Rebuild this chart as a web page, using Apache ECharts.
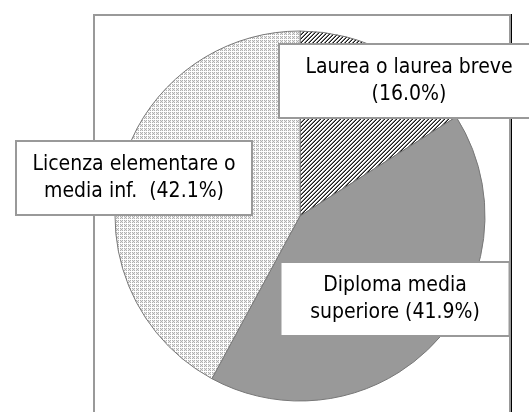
<!DOCTYPE html>
<html>
<head>
<meta charset="utf-8">
<script src="https://cdn.jsdelivr.net/npm/echarts@6/dist/echarts.min.js"></script>
<style>
html,body{margin:0;padding:0;background:#fff;}
#frame{position:absolute;left:93px;top:14px;width:414px;height:420px;border-left:2px solid #999;border-top:2px solid #999;border-right:2px solid #999;box-shadow:1px 0 0 #000;}
#chart{position:absolute;left:0;top:0;width:529px;height:412px;}
</style>
</head>
<body>
<div id="frame"></div>
<div id="chart"></div>
<script>
var categories = ['Laurea o laurea breve', 'Diploma media superiore', 'Licenza elementare o media inf.'];
var labelTexts = ['Laurea o laurea breve\n(16.0%)', 'Diploma media\nsuperiore (41.9%)', 'Licenza elementare o\nmedia inf.  (42.1%)'];
var values = [16.0, 41.9, 42.1];

function makeHatch() {
  var c = document.createElement('canvas');
  c.width = 4; c.height = 4;
  var ctx = c.getContext('2d');
  ctx.fillStyle = '#fff'; ctx.fillRect(0, 0, 4, 4);
  for (var x = 0; x < 4; x++) for (var y = 0; y < 4; y++) {
    var k = (x + y) % 4;
    if (k === 3) { ctx.fillStyle = '#1a1a1a'; ctx.fillRect(x, y, 1, 1); }
    else if (k === 2) { ctx.fillStyle = '#808080'; ctx.fillRect(x, y, 1, 1); }
  }
  return c;
}
function makeDots() {
  var c = document.createElement('canvas');
  c.width = 4; c.height = 4;
  var ctx = c.getContext('2d');
  ctx.fillStyle = '#fff'; ctx.fillRect(0, 0, 4, 4);
  for (var x = 0; x < 3; x++) for (var y = 0; y < 3; y++) {
    if ((x + y) % 2 === 0) { ctx.fillStyle = '#b0b0b0'; ctx.fillRect(x, y, 1, 1); }
    else { ctx.fillStyle = '#e8e8e8'; ctx.fillRect(x, y, 1, 1); }
  }
  return c;
}

var fills = [
  { image: makeHatch(), repeat: 'repeat' },
  '#999999',
  { image: makeDots(), repeat: 'repeat' }
];
var boxes = [
  { cx: 409, cy: 81, w: 262 },
  { cx: 395, cy: 299, w: 231 },
  { cx: 134, cy: 178, w: 238 }
];

var chart = echarts.init(document.getElementById('chart'), null, { renderer: 'canvas' });
chart.setOption({
  animation: false,
  series: [{
    type: 'pie',
    center: [300, 216],
    radius: 185,
    startAngle: 90,
    clockwise: true,
    silent: true,
    data: categories.map(function (n, i) {
      return {
        name: n,
        value: values[i],
        itemStyle: { color: fills[i] },
        label: { width: boxes[i].w - 4 }
      };
    }),
    itemStyle: { borderColor: '#777', borderWidth: 1 },
    label: {
      show: true,
      position: 'outside',
      formatter: function (p) { return labelTexts[p.dataIndex]; },
      fontFamily: '"DejaVu Sans Condensed", "DejaVu Sans", sans-serif',
      fontSize: 21,
      lineHeight: 27,
      color: '#000',
      align: 'center',
      backgroundColor: '#fff',
      borderColor: '#999',
      borderWidth: 2,
      padding: [9, 0, 9, 0]
    },
    labelLine: { show: false },
    labelLayout: function (p) {
      var b = boxes[p.dataIndex];
      return { x: b.cx, y: b.cy, align: 'center', verticalAlign: 'middle' };
    }
  }]
});
</script>
</body>
</html>
